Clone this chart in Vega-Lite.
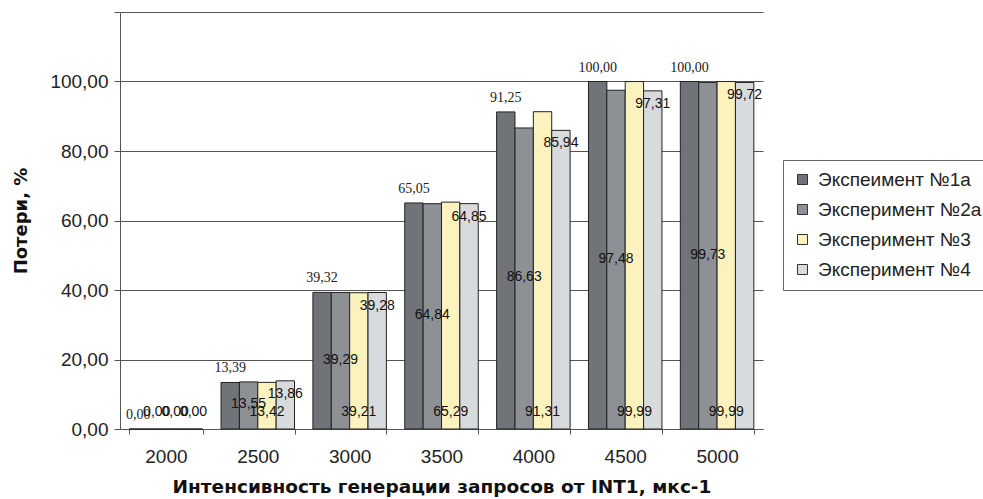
{
  "$schema": "https://vega.github.io/schema/vega-lite/v6.json",
  "width": 643,
  "height": 417,
  "padding": {"left": 120, "top": 12, "right": 220, "bottom": 70},
  "autosize": {"type": "none"},
  "background": "white",
  "config": {
    "locale": {"number": {"decimal": ",", "thousands": " ", "grouping": [3], "currency": ["", ""]}},
    "view": {"stroke": null},
    "font": "Liberation Sans"
  },
  "data": {
    "values": [
      {"rate": "2000", "series": "Экспеимент №1а", "value": 0.00},
      {"rate": "2000", "series": "Эксперимент №2а", "value": 0.00},
      {"rate": "2000", "series": "Эксперимент №3", "value": 0.00},
      {"rate": "2000", "series": "Эксперимент №4", "value": 0.00},
      {"rate": "2500", "series": "Экспеимент №1а", "value": 13.39},
      {"rate": "2500", "series": "Эксперимент №2а", "value": 13.55},
      {"rate": "2500", "series": "Эксперимент №3", "value": 13.42},
      {"rate": "2500", "series": "Эксперимент №4", "value": 13.86},
      {"rate": "3000", "series": "Экспеимент №1а", "value": 39.32},
      {"rate": "3000", "series": "Эксперимент №2а", "value": 39.29},
      {"rate": "3000", "series": "Эксперимент №3", "value": 39.21},
      {"rate": "3000", "series": "Эксперимент №4", "value": 39.28},
      {"rate": "3500", "series": "Экспеимент №1а", "value": 65.05},
      {"rate": "3500", "series": "Эксперимент №2а", "value": 64.84},
      {"rate": "3500", "series": "Эксперимент №3", "value": 65.29},
      {"rate": "3500", "series": "Эксперимент №4", "value": 64.85},
      {"rate": "4000", "series": "Экспеимент №1а", "value": 91.25},
      {"rate": "4000", "series": "Эксперимент №2а", "value": 86.63},
      {"rate": "4000", "series": "Эксперимент №3", "value": 91.31},
      {"rate": "4000", "series": "Эксперимент №4", "value": 85.94},
      {"rate": "4500", "series": "Экспеимент №1а", "value": 100.00},
      {"rate": "4500", "series": "Эксперимент №2а", "value": 97.48},
      {"rate": "4500", "series": "Эксперимент №3", "value": 99.99},
      {"rate": "4500", "series": "Эксперимент №4", "value": 97.31},
      {"rate": "5000", "series": "Экспеимент №1а", "value": 100.00},
      {"rate": "5000", "series": "Эксперимент №2а", "value": 99.73},
      {"rate": "5000", "series": "Эксперимент №3", "value": 99.99},
      {"rate": "5000", "series": "Эксперимент №4", "value": 99.72}
    ]
  },
  "encoding": {
    "x": {
      "field": "rate",
      "type": "nominal",
      "sort": null,
      "scale": {"paddingInner": 0.2, "paddingOuter": 0.1},
      "axis": {
        "title": "Интенсивность генерации запросов от INT1, мкс-1",
        "titleFont": "DejaVu Sans",
        "titleFontSize": 18.5,
        "titleFontWeight": "bold",
        "titleColor": "#111",
        "titlePadding": 11,
        "labelAngle": 0,
        "labelFontSize": 19,
        "labelColor": "#222",
        "labelPadding": 13,
        "tickBand": "extent",
        "tickSize": 5,
        "tickColor": "#555",
        "domainColor": "#555",
        "grid": false
      }
    },
    "xOffset": {"field": "series", "type": "nominal", "sort": null}
  },
  "resolve": {"scale": {"y": "independent"}},
  "layer": [
    {
      "mark": {"type": "bar", "stroke": "#222", "strokeWidth": 1},
      "encoding": {
        "y": {
          "field": "value",
          "type": "quantitative",
          "scale": {"domain": [0, 120], "nice": false},
          "axis": {
            "title": "Потери, %",
            "titleFont": "DejaVu Sans",
            "titleFontSize": 18,
            "titleFontWeight": "bold",
            "titleColor": "#111",
            "titlePadding": 19,
            "values": [0, 20, 40, 60, 80, 100, 120],
            "format": ".2f",
            "labelExpr": "datum.value > 100 ? '' : datum.label",
            "labelFontSize": 19,
            "labelColor": "#222",
            "labelPadding": 6,
            "tickSize": 6,
            "tickColor": "#555",
            "domainColor": "#555",
            "grid": true,
            "gridColor": "#555",
            "gridWidth": 1
          }
        },
        "color": {
          "field": "series",
          "type": "nominal",
          "sort": null,
          "scale": {
            "domain": ["Экспеимент №1а", "Эксперимент №2а", "Эксперимент №3", "Эксперимент №4"],
            "range": ["#707377", "#8d9094", "#fcf2bd", "#d8dbde"]
          },
          "legend": {
            "title": null,
            "orient": "none",
            "legendX": 663,
            "legendY": 148,
            "labelFontSize": 19,
            "labelColor": "#222",
            "labelFont": "Liberation Sans",
            "labelOffset": 6,
            "symbolType": "square",
            "symbolSize": 100,
            "symbolStrokeColor": "#333",
            "symbolStrokeWidth": 1,
            "rowPadding": 10,
            "padding": 10,
            "strokeColor": "#666",
            "fillColor": "white",
            "labelLimit": 300
          }
        }
      }
    },
    {
      "transform": [{"filter": "datum.series === 'Экспеимент №1а'"}],
      "mark": {"type": "text", "font": "Liberation Serif", "fontSize": 14, "dy": -14, "color": "#222"},
      "encoding": {
        "y": {"field": "value", "type": "quantitative", "scale": {"domain": [0, 120], "nice": false}, "axis": null},
        "text": {"field": "value", "type": "quantitative", "format": ".2f"}
      }
    },
    {
      "transform": [{"filter": "datum.series === 'Эксперимент №2а' && datum.value > 0"}],
      "mark": {"type": "text", "fontSize": 14, "color": "#111", "dy": -1},
      "encoding": {
        "y": {"field": "value", "type": "quantitative", "scale": {"domain": [0, 240], "nice": false}, "axis": null},
        "text": {"field": "value", "type": "quantitative", "format": ".2f"}
      }
    },
    {
      "transform": [{"filter": "datum.series === 'Эксперимент №4' && datum.value > 0"}],
      "mark": {"type": "text", "fontSize": 14, "color": "#111", "dy": 13},
      "encoding": {
        "y": {"field": "value", "type": "quantitative", "scale": {"domain": [0, 120], "nice": false}, "axis": null},
        "text": {"field": "value", "type": "quantitative", "format": ".2f"}
      }
    },
    {
      "transform": [{"filter": "datum.series === 'Эксперимент №3' || (datum.value == 0 && datum.series !== 'Экспеимент №1а')"}],
      "mark": {"type": "text", "fontSize": 14, "color": "#111"},
      "encoding": {
        "y": {"datum": 5, "type": "quantitative", "scale": {"domain": [0, 120], "nice": false}, "axis": null},
        "text": {"field": "value", "type": "quantitative", "format": ".2f"}
      }
    }
  ]
}
